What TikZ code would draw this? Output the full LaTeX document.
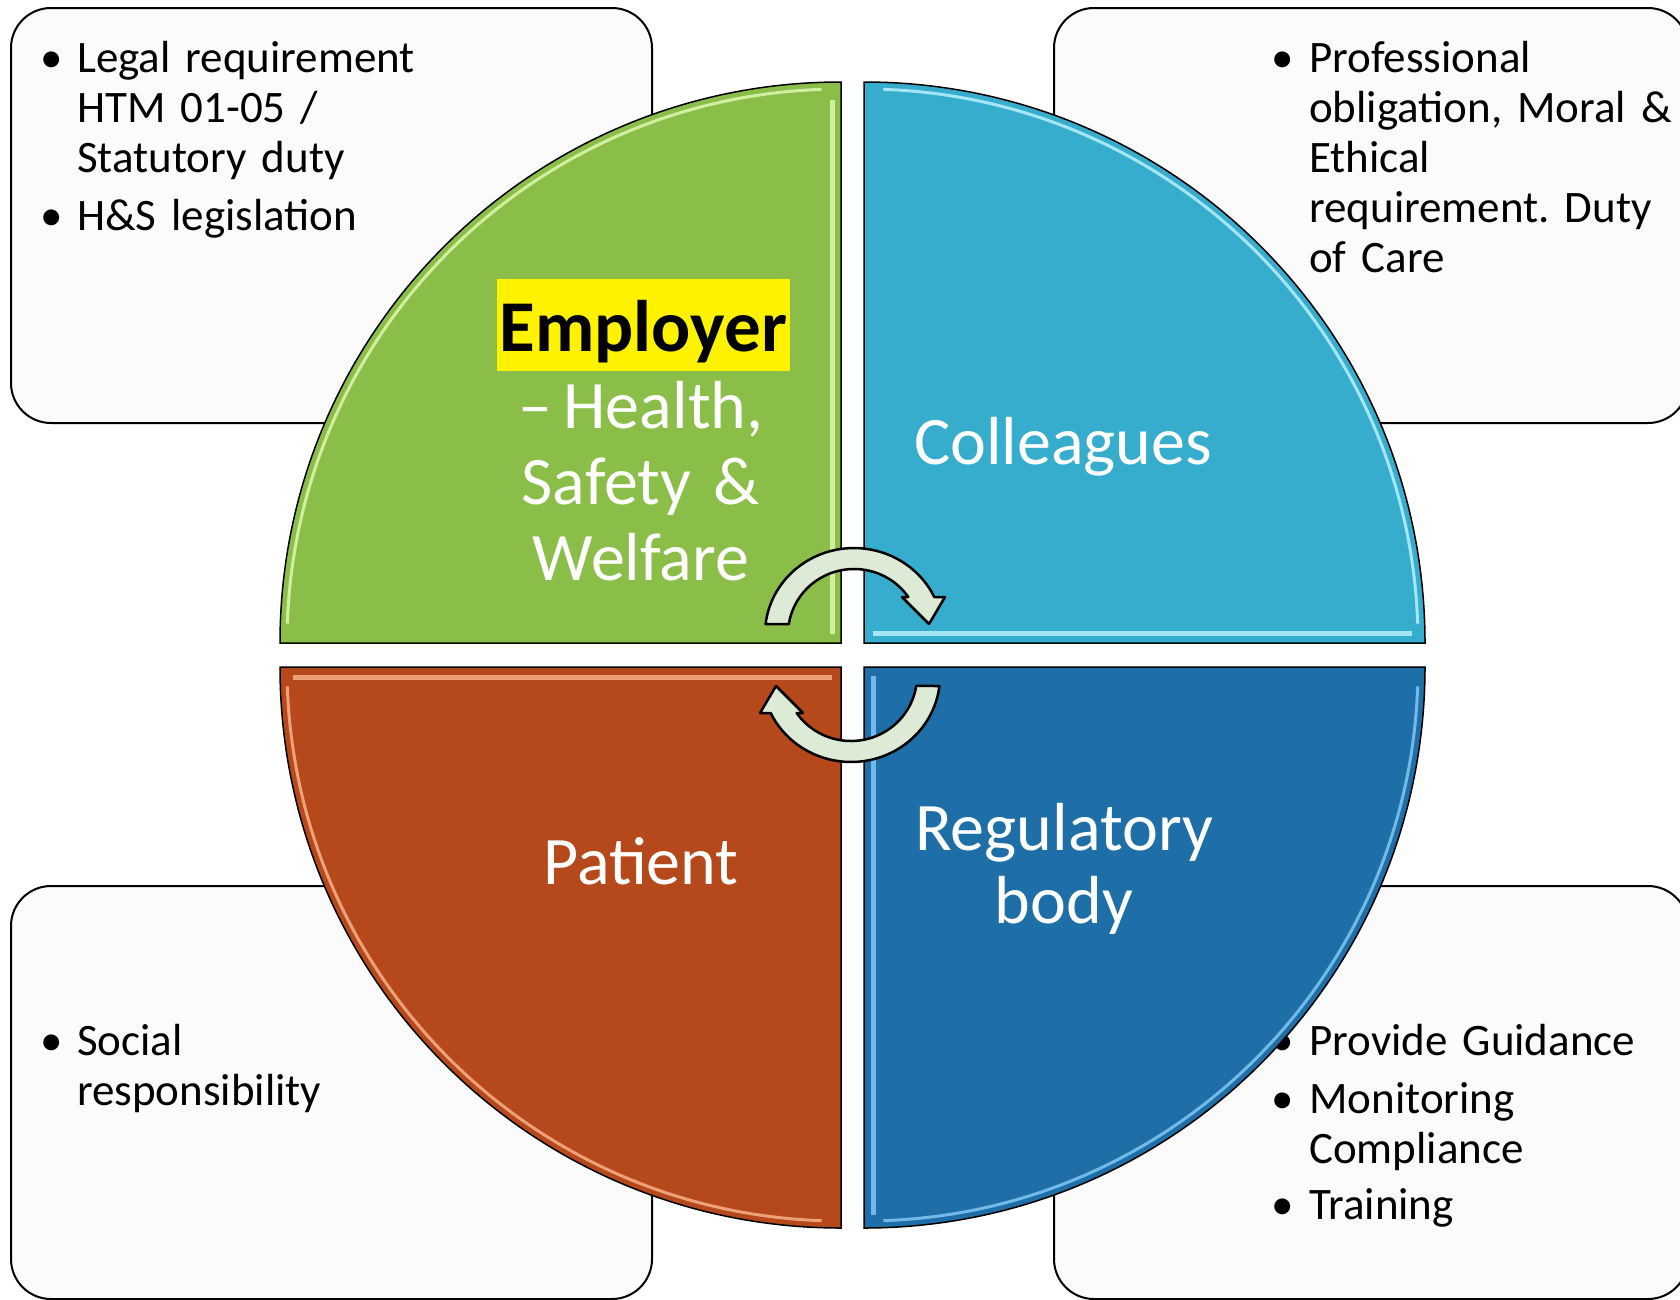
\documentclass[tikz,border=0pt]{standalone}
\usepackage{fontspec}
\setmainfont{Carlito}
\frenchspacing
\definecolor{qgreen}{RGB}{139,190,72}
\definecolor{qcyan}{RGB}{55,173,206}
\definecolor{qorange}{RGB}{181,73,27}
\definecolor{qblue}{RGB}{30,111,168}
\definecolor{hgreen}{RGB}{210,238,160}
\definecolor{hcyan}{RGB}{165,230,246}
\definecolor{horange}{RGB}{238,160,120}
\definecolor{hblue}{RGB}{115,185,232}
\definecolor{boxfill}{RGB}{251,251,251}
\definecolor{arrowfill}{RGB}{221,234,213}
\begin{document}
\begin{tikzpicture}[x=1pt,y=-1pt,
  sidebox/.style={draw=black, line width=2pt, fill=boxfill, rounded corners=40pt},
  sidetext/.style={anchor=base west, inner sep=0pt, text width=600pt, align=left,
                   font=\fontsize{45}{50}\selectfont\frenchspacing},
  bulletmark/.style={anchor=base, inner sep=0pt, font=\fontsize{45}{50}\selectfont},
  quad/.style={draw=black, line width=1.5pt},
  hilite/.style={line width=3pt},
  quadlabel/.style={anchor=base, inner sep=0pt, text=white, text width=420pt, align=center,
                    font=\fontsize{68}{76}\selectfont},
  cyclearrow/.style={draw=black, line width=2.5pt, fill=arrowfill, line join=round},
]
\clip (0,0) rectangle (1680,1299);
\fill[white] (0,0) rectangle (1680,1299);

% side boxes
\draw[sidebox] (11,8) rectangle (652,423);
\draw[sidebox] (1054,8) rectangle (1688,423);
\draw[sidebox] (11,886) rectangle (652,1299);
\draw[sidebox] (1054,886) rectangle (1688,1299);

% side texts
\node[bulletmark] (tlb1) at (51.3,72.7) {\textbullet};
\node[sidetext] (tlt1) at (77,72.7) {Legal requirement\\HTM 01-05 /\\Statutory duty};
\node[bulletmark] (tlb2) at (51.3,230) {\textbullet};
\node[sidetext] (tlt2) at (77,230) {H\&S legislation};

\node[bulletmark] (trb1) at (1283,72.7) {\textbullet};
\node[sidetext] (trt1) at (1309,72.7) {Professional\\obligation, Moral \&\\Ethical\\requirement. Duty\\of Care};

\node[bulletmark] (blb1) at (51.3,1055) {\textbullet};
\node[sidetext] (blt1) at (77,1055) {Social\\responsibility};

\node[bulletmark] (brb1) at (1283,1055) {\textbullet};
\node[sidetext] (brt1) at (1309,1055) {Provide Guidance};
\node[bulletmark] (brb2) at (1283,1113) {\textbullet};
\node[sidetext] (brt2) at (1309,1113) {Monitoring\\Compliance};
\node[bulletmark] (brb3) at (1283,1219) {\textbullet};
\node[sidetext] (brt3) at (1309,1219) {Training};

% quadrants
\draw[quad, fill=qgreen] (841,643) -- (280,643) arc[start angle=180, end angle=270, radius=561] -- cycle;
\draw[quad, fill=qcyan] (864,643) -- (864,82) arc[start angle=270, end angle=360, radius=561] -- cycle;
\draw[quad, fill=qorange] (841,667) -- (841,1228) arc[start angle=90, end angle=180, radius=561] -- cycle;
\draw[quad, fill=qblue] (864,667) -- (1425,667) arc[start angle=0, end angle=90, radius=561] -- cycle;

% bevel highlights
\draw[hilite, hgreen] ([shift={(182:554)}]841,643) arc[start angle=182, end angle=268, radius=554];
\draw[hilite, hgreen, line width=5pt] (832,100) -- (832,634);
\draw[hilite, hcyan] ([shift={(272:554)}]864,643) arc[start angle=272, end angle=358, radius=554];
\draw[hilite, hcyan, line width=5pt] (873,633) -- (1412,633);
\draw[hilite, horange] ([shift={(92:554)}]841,667) arc[start angle=92, end angle=178, radius=554];
\draw[hilite, horange, line width=5pt] (293,677) -- (832,677);
\draw[hilite, hblue] ([shift={(2:554)}]864,667) arc[start angle=2, end angle=88, radius=554];
\draw[hilite, hblue, line width=5pt] (873,676) -- (873,1215);

% quadrant labels
\node[anchor=base, fill=yellow, inner sep=0pt, inner xsep=3pt, text height=72pt, text depth=20pt,
      font=\fontsize{73}{80}\selectfont\bfseries] (emp) at (643.5,351) {Employer};
\node[quadlabel] (hsw) at (641,428) {–\,Health,\\Safety \&\\Welfare};
\node[quadlabel] (col) at (1063,464) {Colleagues};
\node[quadlabel] (pat) at (641,884) {Patient};
\node[quadlabel, font=\fontsize{68}{73}\selectfont] (reg) at (1064,850) {Regulatory\\body};

% cycle arrows
\draw[cyclearrow] (765.6,624) arc[start angle=186.7, end angle=334.5, x radius=89, y radius=86]
  -- (945,597) -- (929,624) -- (902,597) -- (908.3,597)
  arc[start angle=325.3, end angle=188.8, x radius=66, y radius=65] -- cycle;
\begin{scope}[rotate around={180:(852.5,655)}]
\draw[cyclearrow] (765.6,624) arc[start angle=186.7, end angle=334.5, x radius=89, y radius=86]
  -- (945,597) -- (929,624) -- (902,597) -- (908.3,597)
  arc[start angle=325.3, end angle=188.8, x radius=66, y radius=65] -- cycle;
\end{scope}
\end{tikzpicture}
\end{document}
